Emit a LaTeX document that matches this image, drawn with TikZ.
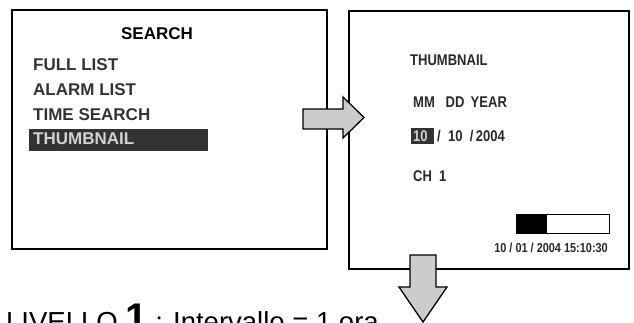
\documentclass[tikz,border=0pt]{standalone}
\usepackage{fontspec}
\setmainfont{Liberation Sans}
\newfontfamily\narrowfont[FakeStretch=0.84]{Liberation Sans}
\usetikzlibrary{positioning}
\definecolor{osdtext}{HTML}{333333}
\definecolor{selbar}{HTML}{333333}
\definecolor{seltext}{HTML}{D2D2D2}
\definecolor{arrowfill}{HTML}{CCCCCC}

\begin{document}
\begin{tikzpicture}[x=1pt, y=-1pt,
  screen/.style={draw, line width=1.1pt, inner sep=0pt},
  menuitem/.style={anchor=west, inner sep=0pt, text=osdtext, font=\bfseries\fontsize{17}{17}\selectfont},
  osd/.style={anchor=west, inner sep=0pt, text=osdtext!80!black, font=\narrowfont\bfseries\fontsize{15.5}{15.5}\selectfont},
  blockarrow/.style={draw, line width=1.3pt, fill=arrowfill, line join=miter}]
  \useasboundingbox (0,0) rectangle (634,322);
  % the two screens
  \node[screen, minimum width=315, minimum height=239] (searchscr) at (169.5,129.5) {};
  \node[screen, minimum width=280, minimum height=258] (thumbscr) at (489,140) {};
  % search menu
  \node[inner sep=0pt, font=\bfseries\fontsize{17}{17}\selectfont] (searchtitle) at (157,34) {SEARCH};
  \fill[selbar] (29,129) rectangle (208,151);
  \foreach \i/\yy/\t in {full/65/FULL LIST, alarm/90/ALARM LIST, time/115/TIME SEARCH}
    \node[menuitem] (\i) at (33,\yy) {\t};
  \node[menuitem, text=seltext] (thumb) at (33,139) {THUMBNAIL};
  % thumbnail screen
  \node[osd] (thumbtitle) at (410,60) {THUMBNAIL};
  \node[osd] (datehead) at (413,102) {MM\ \ \ DD\ \,YEAR};
  \fill[selbar] (411,128) rectangle (434,144);
  \node[osd, text=seltext] (month) at (413,136) {10};
  \node[osd] (dayyear) at (437,136) {/\ \ 10\ \ /\,2004};
  \node[osd] (channel) at (413,176) {CH\ \ 1};
  \draw[line width=1pt] (516,214) rectangle (609,233);
  \fill (516,214) rectangle (547,233);
  \node[osd, anchor=east, font=\narrowfont\bfseries\fontsize{13}{13}\selectfont] (stamp) at (608,248) {10 / 01 / 2004 15:10:30};
  % block arrows
  \draw[blockarrow] (303,109) -- (343,109) -- (343,97) -- (364,117.5) -- (343,138) -- (343,129) -- (303,129) -- cycle;
  \draw[blockarrow] (410,255) -- (436,255) -- (436,287) -- (447,287) -- (423,322) -- (399,287) -- (410,287) -- cycle;
  % level caption, cut by the lower edge
  \node[anchor=base west, inner sep=0pt, font=\fontsize{27.5}{27.5}\selectfont] (level) at (6,331.7)
    {LIVELLO\ {\bfseries\fontsize{40}{40}\selectfont 1} : Intervallo = 1 ora};
\end{tikzpicture}
\end{document}
